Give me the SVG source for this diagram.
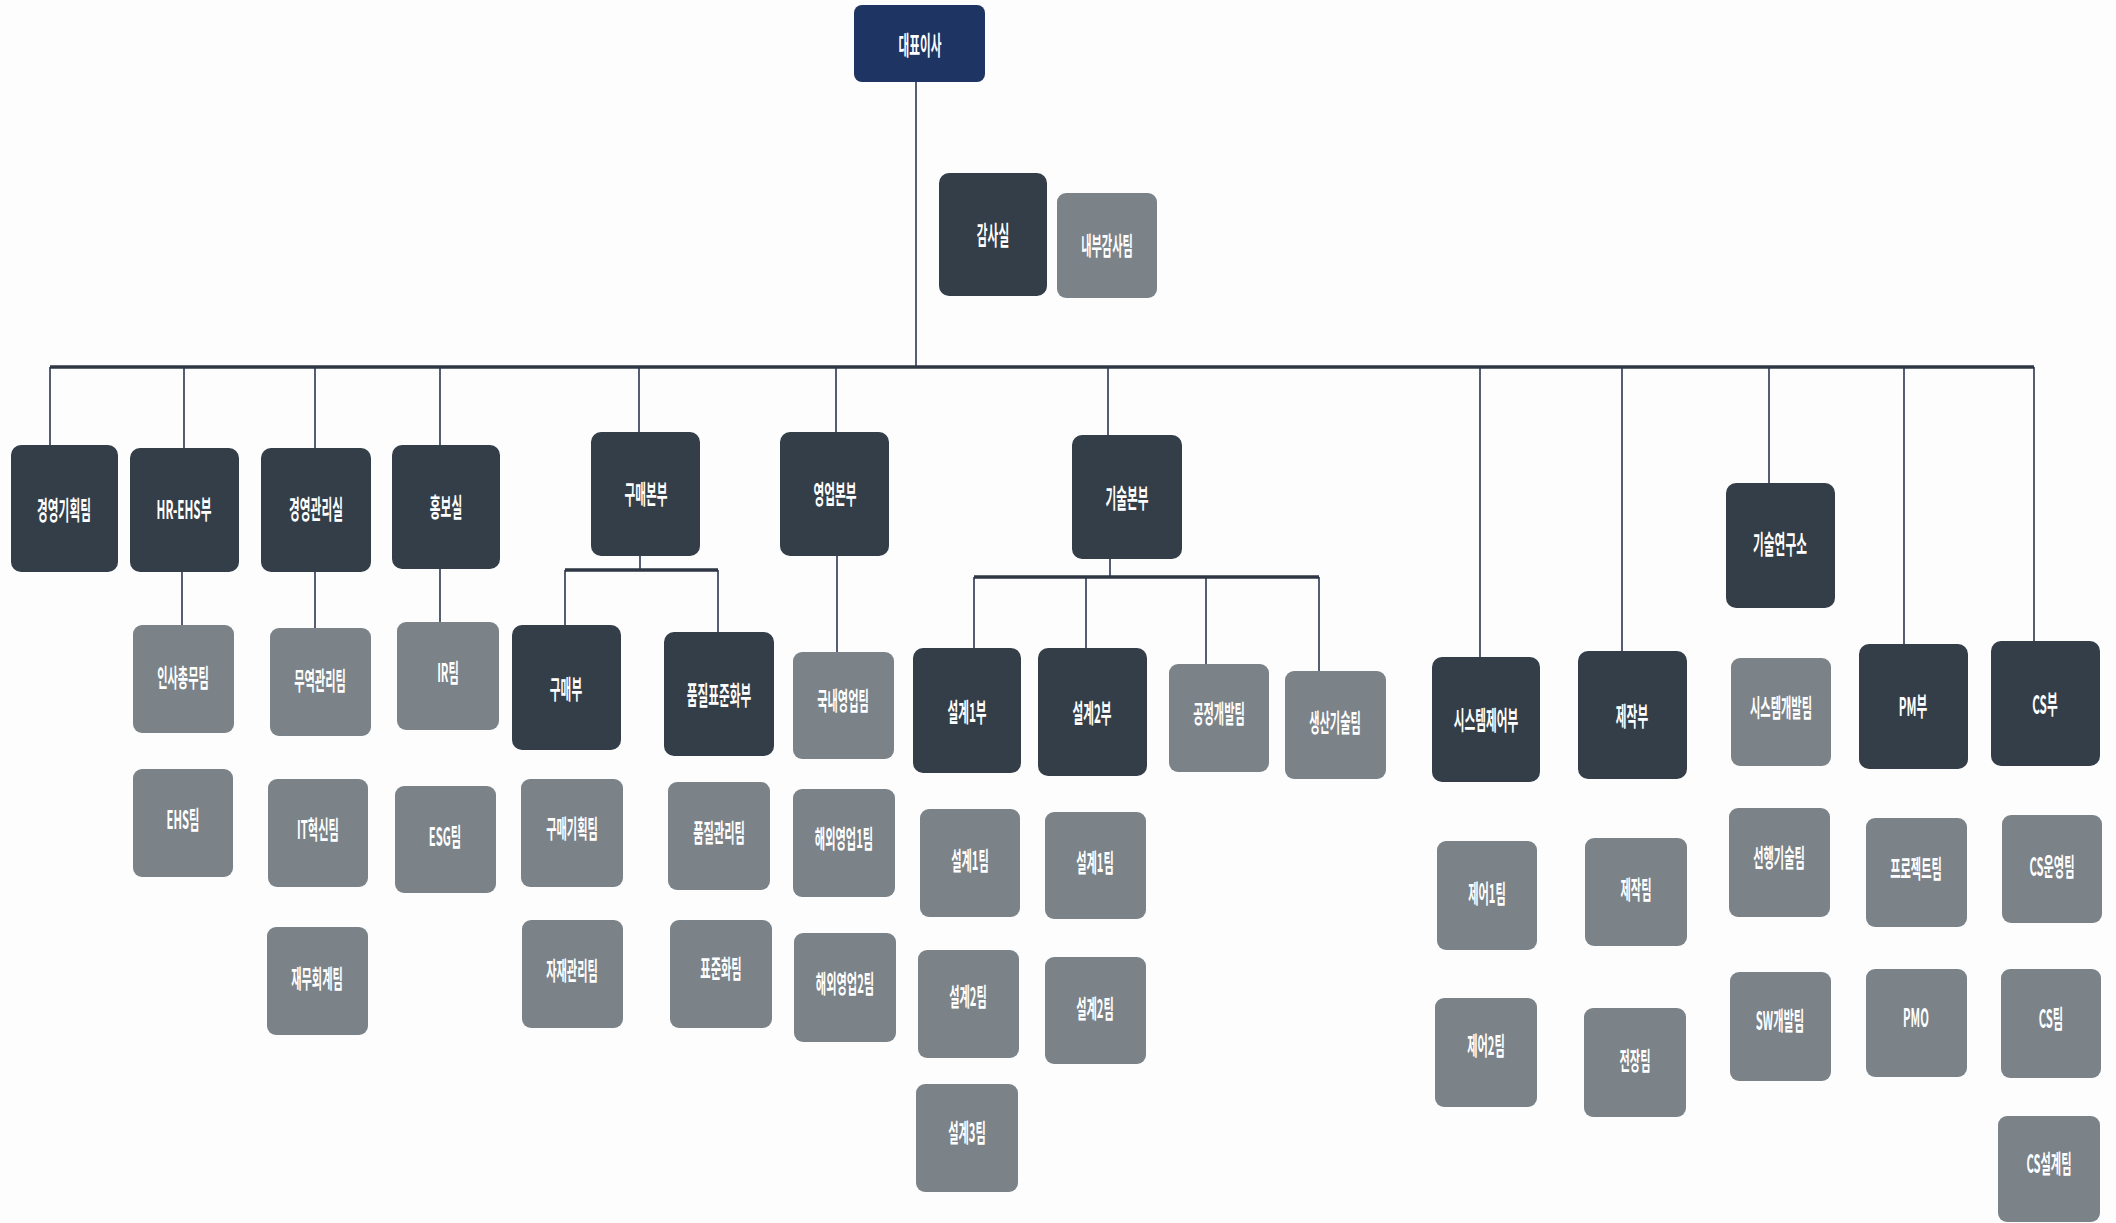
<svg xmlns="http://www.w3.org/2000/svg" width="2116" height="1223" viewBox="0 0 2116 1223">
<style>
.bg{fill:#fdfdfd}
.navy{fill:#1e3563}
.dark{fill:#343e48}
.gray{fill:#7b8389}
.t{fill:#ffffff;font-family:"Noto Sans CJK KR","Noto Sans",sans-serif;font-weight:bold;font-size:26px;text-anchor:middle;dominant-baseline:central}
.ts{font-size:25px}
.ln{stroke:#2b3650;stroke-width:1.6;fill:none}
.bus{stroke:#2f3744;stroke-width:3.5;fill:none}
</style>
<rect class="bg" x="0" y="0" width="2116" height="1223"/>
<g id="connectors">
<path class="ln" d="M916 82V367"/>
<path class="bus" d="M50 367H2034"/>
<path class="ln" d="M50 367V445M184 367V448M315 367V448M440 367V445M639 367V432M836 367V432M1108 367V435M1480 367V657M1622 367V651M1769 367V483M1904 367V644M2034 367V641"/>
<path class="ln" d="M182 572V625M315 572V628M440 569V622M837 556V652"/>
<path class="ln" d="M640 556V570M1110 559V577"/>
<path class="bus" d="M565 570H718M974 577H1319"/>
<path class="ln" d="M565 570V625M718 570V632M974 577V648M1086 577V648M1206 577V664M1319 577V671"/>
</g>
<g id="n-ceo"><rect class="navy" x="854" y="5" width="131" height="77" rx="8"/><text class="t" transform="translate(920 44) scale(0.45 1)">대표이사</text></g>
<g id="n-audit"><rect class="dark" x="939" y="173" width="108" height="123" rx="10"/><text class="t" transform="translate(993 234) scale(0.45 1)">감사실</text></g>
<g id="n-audit-team"><rect class="gray" x="1057" y="193" width="100" height="105" rx="9"/><text class="t ts" transform="translate(1107 245) scale(0.45 1)">내부감사팀</text></g>

<g id="n-plan"><rect class="dark" x="11" y="445" width="107" height="127" rx="10"/><text class="t" transform="translate(64 509) scale(0.45 1)">경영기획팀</text></g>
<g id="n-hr"><rect class="dark" x="130" y="448" width="109" height="124" rx="10"/><text class="t" transform="translate(184 508) scale(0.45 1)">HR-EHS부</text></g>
<g id="n-mgmt"><rect class="dark" x="261" y="448" width="110" height="124" rx="10"/><text class="t" transform="translate(316 508) scale(0.45 1)">경영관리실</text></g>
<g id="n-pr"><rect class="dark" x="392" y="445" width="108" height="124" rx="10"/><text class="t" transform="translate(446 506) scale(0.45 1)">홍보실</text></g>
<g id="n-purch-hq"><rect class="dark" x="591" y="432" width="109" height="124" rx="10"/><text class="t" transform="translate(646 493) scale(0.45 1)">구매본부</text></g>
<g id="n-sales-hq"><rect class="dark" x="780" y="432" width="109" height="124" rx="10"/><text class="t" transform="translate(835 493) scale(0.45 1)">영업본부</text></g>
<g id="n-tech-hq"><rect class="dark" x="1072" y="435" width="110" height="124" rx="10"/><text class="t" transform="translate(1127 497) scale(0.45 1)">기술본부</text></g>
<g id="n-lab"><rect class="dark" x="1726" y="483" width="109" height="125" rx="10"/><text class="t" transform="translate(1780 543) scale(0.45 1)">기술연구소</text></g>
<g id="n-sysctl"><rect class="dark" x="1432" y="657" width="108" height="125" rx="10"/><text class="t" transform="translate(1486 719) scale(0.45 1)">시스템제어부</text></g>
<g id="n-make"><rect class="dark" x="1578" y="651" width="109" height="128" rx="10"/><text class="t" transform="translate(1632 715) scale(0.45 1)">제작부</text></g>
<g id="n-pm"><rect class="dark" x="1859" y="644" width="109" height="125" rx="10"/><text class="t" transform="translate(1913 705) scale(0.45 1)">PM부</text></g>
<g id="n-cs"><rect class="dark" x="1991" y="641" width="109" height="125" rx="10"/><text class="t" transform="translate(2045 703) scale(0.45 1)">CS부</text></g>
<g id="n-purch"><rect class="dark" x="512" y="625" width="109" height="125" rx="10"/><text class="t" transform="translate(566 688) scale(0.45 1)">구매부</text></g>
<g id="n-quality"><rect class="dark" x="664" y="632" width="110" height="124" rx="10"/><text class="t" transform="translate(719 694) scale(0.45 1)">품질표준화부</text></g>
<g id="n-d1"><rect class="dark" x="913" y="648" width="108" height="125" rx="10"/><text class="t" transform="translate(967 711) scale(0.45 1)">설계1부</text></g>
<g id="n-d2"><rect class="dark" x="1038" y="648" width="109" height="128" rx="10"/><text class="t" transform="translate(1092 712) scale(0.45 1)">설계2부</text></g>

<g id="n-hrteam"><rect class="gray" x="133" y="625" width="101" height="108" rx="9"/><text class="t ts" transform="translate(183 677) scale(0.45 1)">인사총무팀</text></g>
<g id="n-ehs"><rect class="gray" x="133" y="769" width="100" height="108" rx="9"/><text class="t ts" transform="translate(183 819) scale(0.45 1)">EHS팀</text></g>
<g id="n-trade"><rect class="gray" x="270" y="628" width="101" height="108" rx="9"/><text class="t ts" transform="translate(320 680) scale(0.45 1)">무역관리팀</text></g>
<g id="n-it"><rect class="gray" x="268" y="779" width="100" height="108" rx="9"/><text class="t ts" transform="translate(318 829) scale(0.45 1)">IT혁신팀</text></g>
<g id="n-fin"><rect class="gray" x="267" y="927" width="101" height="108" rx="9"/><text class="t ts" transform="translate(317 978) scale(0.45 1)">재무회계팀</text></g>
<g id="n-ir"><rect class="gray" x="397" y="622" width="102" height="108" rx="9"/><text class="t ts" transform="translate(448 672) scale(0.45 1)">IR팀</text></g>
<g id="n-esg"><rect class="gray" x="395" y="786" width="101" height="107" rx="9"/><text class="t ts" transform="translate(445 836) scale(0.45 1)">ESG팀</text></g>
<g id="n-purplan"><rect class="gray" x="521" y="779" width="102" height="108" rx="9"/><text class="t ts" transform="translate(572 828) scale(0.45 1)">구매기획팀</text></g>
<g id="n-material"><rect class="gray" x="522" y="920" width="101" height="108" rx="9"/><text class="t ts" transform="translate(572 970) scale(0.45 1)">자재관리팀</text></g>
<g id="n-qc"><rect class="gray" x="668" y="782" width="102" height="108" rx="9"/><text class="t ts" transform="translate(719 832) scale(0.45 1)">품질관리팀</text></g>
<g id="n-std"><rect class="gray" x="670" y="920" width="102" height="108" rx="9"/><text class="t ts" transform="translate(721 968) scale(0.45 1)">표준화팀</text></g>
<g id="n-dom"><rect class="gray" x="793" y="652" width="101" height="107" rx="9"/><text class="t ts" transform="translate(843 700) scale(0.45 1)">국내영업팀</text></g>
<g id="n-ov1"><rect class="gray" x="793" y="789" width="102" height="108" rx="9"/><text class="t ts" transform="translate(844 838) scale(0.45 1)">해외영업1팀</text></g>
<g id="n-ov2"><rect class="gray" x="794" y="933" width="102" height="109" rx="9"/><text class="t ts" transform="translate(845 983) scale(0.45 1)">해외영업2팀</text></g>
<g id="n-d1t1"><rect class="gray" x="920" y="809" width="100" height="108" rx="9"/><text class="t ts" transform="translate(970 860) scale(0.45 1)">설계1팀</text></g>
<g id="n-d1t2"><rect class="gray" x="918" y="950" width="101" height="108" rx="9"/><text class="t ts" transform="translate(968 996) scale(0.45 1)">설계2팀</text></g>
<g id="n-d1t3"><rect class="gray" x="916" y="1084" width="102" height="108" rx="9"/><text class="t ts" transform="translate(967 1132) scale(0.45 1)">설계3팀</text></g>
<g id="n-d2t1"><rect class="gray" x="1045" y="812" width="101" height="107" rx="9"/><text class="t ts" transform="translate(1095 862) scale(0.45 1)">설계1팀</text></g>
<g id="n-d2t2"><rect class="gray" x="1045" y="957" width="101" height="107" rx="9"/><text class="t ts" transform="translate(1095 1008) scale(0.45 1)">설계2팀</text></g>
<g id="n-process"><rect class="gray" x="1169" y="664" width="100" height="108" rx="9"/><text class="t ts" transform="translate(1219 713) scale(0.45 1)">공정개발팀</text></g>
<g id="n-prodtech"><rect class="gray" x="1285" y="671" width="101" height="108" rx="9"/><text class="t ts" transform="translate(1335 722) scale(0.45 1)">생산기술팀</text></g>
<g id="n-c1"><rect class="gray" x="1437" y="841" width="100" height="109" rx="9"/><text class="t ts" transform="translate(1487 893) scale(0.45 1)">제어1팀</text></g>
<g id="n-c2"><rect class="gray" x="1435" y="998" width="102" height="109" rx="9"/><text class="t ts" transform="translate(1486 1045) scale(0.45 1)">제어2팀</text></g>
<g id="n-maketeam"><rect class="gray" x="1585" y="838" width="102" height="108" rx="9"/><text class="t ts" transform="translate(1636 889) scale(0.45 1)">제작팀</text></g>
<g id="n-elec"><rect class="gray" x="1584" y="1008" width="102" height="109" rx="9"/><text class="t ts" transform="translate(1635 1060) scale(0.45 1)">전장팀</text></g>
<g id="n-sysdev"><rect class="gray" x="1731" y="658" width="100" height="108" rx="9"/><text class="t ts" transform="translate(1781 707) scale(0.45 1)">시스템개발팀</text></g>
<g id="n-adv"><rect class="gray" x="1729" y="808" width="101" height="109" rx="9"/><text class="t ts" transform="translate(1779 857) scale(0.45 1)">선행기술팀</text></g>
<g id="n-sw"><rect class="gray" x="1730" y="972" width="101" height="109" rx="9"/><text class="t ts" transform="translate(1780 1020) scale(0.45 1)">SW개발팀</text></g>
<g id="n-proj"><rect class="gray" x="1866" y="818" width="101" height="109" rx="9"/><text class="t ts" transform="translate(1916 868) scale(0.45 1)">프로젝트팀</text></g>
<g id="n-pmo"><rect class="gray" x="1866" y="969" width="101" height="108" rx="9"/><text class="t ts" transform="translate(1916 1017) scale(0.45 1)">PMO</text></g>
<g id="n-csop"><rect class="gray" x="2002" y="815" width="100" height="108" rx="9"/><text class="t ts" transform="translate(2052 866) scale(0.45 1)">CS운영팀</text></g>
<g id="n-csteam"><rect class="gray" x="2001" y="969" width="100" height="109" rx="9"/><text class="t ts" transform="translate(2051 1018) scale(0.45 1)">CS팀</text></g>
<g id="n-csdesign"><rect class="gray" x="1998" y="1116" width="102" height="106" rx="9"/><text class="t ts" transform="translate(2049 1163) scale(0.45 1)">CS설계팀</text></g>
</svg>
